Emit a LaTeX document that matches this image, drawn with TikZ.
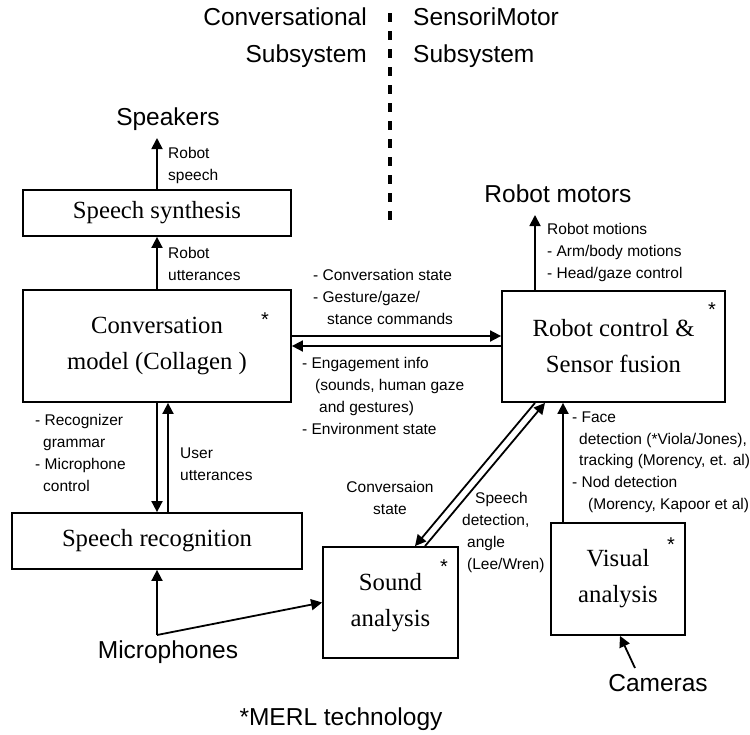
\documentclass[tikz,border=0pt]{standalone}
\usepackage{fontspec}
\setmainfont{Liberation Serif}
\setsansfont{Liberation Sans}
\usetikzlibrary{arrows.meta}

\tikzset{
  box/.style={draw, line width=1.8pt, inner sep=0pt, align=center,
    font=\rmfamily\fontsize{24.7}{36}\selectfont},
  arr/.style={line width=1.8pt, -{Triangle[length=11pt,width=11pt]}},
  lbl/.style={font=\sffamily\fontsize{15.5}{21.8}\selectfont, inner sep=0pt,
    align=left, anchor=north west},
  big/.style={font=\sffamily\fontsize{24.5}{37}\selectfont, inner sep=0pt},
  star/.style={font=\sffamily\fontsize{20}{22}\selectfont, inner sep=0pt, anchor=base},
}

\begin{document}
\begin{tikzpicture}[x=1pt, y=-1pt]
    \useasboundingbox (0,0) rectangle (750,734);

    % the two subsystems
    \node[big, align=right, anchor=north east] (convsys) at (367,7.2) {Conversational\\Subsystem};
    \node[big, align=left, anchor=north west] (motorsys) at (413,7.2) {SensoriMotor\\Subsystem};
    \draw[line width=4pt, dash pattern=on 9pt off 9pt] (390,13) -- (390,220);

    % boxes
    \node[box, minimum width=268pt, minimum height=46pt] (synth) at (157,213) {Speech synthesis};
    \node[box, minimum width=268pt, minimum height=112pt] (conv) at (157,346) {Conversation\\model (Collagen )};
    \node[box, minimum width=290pt, minimum height=56pt] (reco) at (157,541) {Speech recognition};
    \node[box, minimum width=223pt, minimum height=111pt] (ctrl) at (613.5,346.5) {Robot control \&\\Sensor fusion};
    \node[box, minimum width=135pt, minimum height=111pt] (sound) at (390.5,602.5) {Sound\\analysis};
    \node[box, minimum width=134pt, minimum height=112pt] (visual) at (618,579) {Visual\\analysis};

    \node[star] (convstar) at (265,326.5) {*};
    \node[star] (ctrlstar) at (712,316.5) {*};
    \node[star] (soundstar) at (444,573.5) {*};
    \node[star] (visualstar) at (671,551.5) {*};

    % devices
    \node[big, anchor=base] (spk) at (168,125.8) {Speakers};
    \node[big, anchor=base] (motors) at (558,202.8) {Robot motors};
    \node[big, anchor=base] (mic) at (168,658.8) {Microphones};
    \node[big, anchor=base] (cam) at (658,691.8) {Cameras};
    \node[big, anchor=base] (merl) at (341,725.8) {*MERL technology};

    \coordinate (spkpt) at (157,138);
    \coordinate (motpt) at (535,215);
    \coordinate (micpt) at (157,635);
    \coordinate (campt) at (635,668);

    % connectors
    \draw[arr] (synth.north) -- (spkpt);
    \draw[arr] (conv.north) -- (synth.south);
    \draw[arr] (conv.south) -- (reco.north);
    \draw[arr] ([xshift=11pt]reco.north) -- ([xshift=11pt]conv.south);
    \draw[arr] ([yshift=10pt]conv.east) -- ([yshift=10pt]conv.east -| ctrl.west);
    \draw[arr] (ctrl.west |- conv.east) -- (conv.east);
    \draw[arr] (ctrl.north -| motpt) -- (motpt);
    \draw[arr] ([xshift=-78.5pt]ctrl.south) -- ([xshift=24.5pt]sound.north);
    \draw[arr] ([xshift=34.5pt]sound.north) -- ([xshift=-68.5pt]ctrl.south);
    \draw[arr] ([xshift=-55pt]visual.north) -- ([xshift=-55pt]visual.north |- ctrl.south);
    \draw[arr] (micpt) -- (reco.south);
    \draw[arr] (micpt) -- (sound.west);
    \draw[arr] (campt) -- ([xshift=2pt]visual.south);

    % connector labels
    \node[lbl] (l-speech) at (168,147.4) {Robot\\speech};
    \node[lbl] (l-utter) at (168,247.4) {Robot\\utterances};
    \node[lbl] (l-cmds) at (313,269.4) {- Conversation state\\- Gesture/gaze/\\\hspace*{14pt}stance commands};
    \node[lbl] (l-engage) at (302,357.4) {- Engagement info\\\hspace*{13pt}(sounds, human gaze\\\hspace*{17pt}and gestures)\\- Environment state};
    \node[lbl] (l-motions) at (547,223.4) {Robot motions\\- Arm/body motions\\- Head/gaze control};
    \node[lbl] (l-gram) at (35,414.4) {- Recognizer\\\hspace*{8pt}grammar\\- Microphone\\\hspace*{8pt}control};
    \node[lbl] (l-user) at (180,447.4) {User\\utterances};
    \node[lbl, align=center, anchor=north] (l-state) at (390,481.4) {Conversaion\\state};
    \node[lbl] (l-detect) at (462,492.4) {\hspace*{13pt}Speech\\detection,\\\hspace*{5pt}angle\\\hspace*{5pt}(Lee/Wren)};
    \node[lbl] (l-face) at (572,411.4) {- Face\\\hspace*{7pt}detection (*Viola/Jones),\\\hspace*{7pt}tracking (Morency, et. al)\\- Nod detection\\\hspace*{16pt}(Morency, Kapoor et al)};
\end{tikzpicture}
\end{document}
